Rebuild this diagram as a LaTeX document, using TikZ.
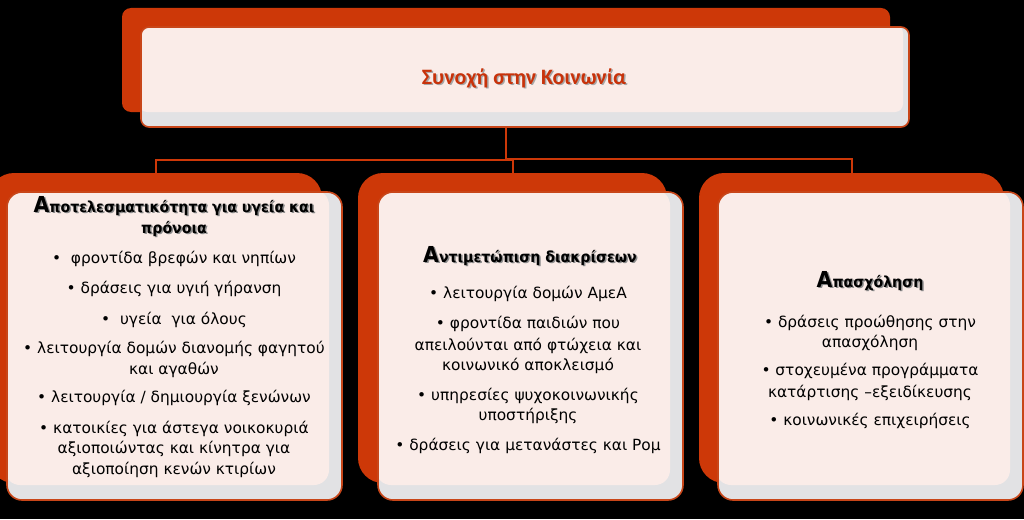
\documentclass[tikz,border=0pt]{standalone}
\usepackage{fontspec}
\setmainfont{DejaVu Sans}
\newfontfamily\titlefont{Carlito}
\newfontfamily\headfont[FakeStretch=0.93]{DejaVu Sans}
\definecolor{redc}{RGB}{205,56,8}
\definecolor{bordc}{RGB}{200,70,25}
\definecolor{pinkc}{RGB}{250,236,232}
\definecolor{grayc}{RGB}{226,226,228}
\definecolor{titlec}{RGB}{200,50,10}
\tikzset{
  backbox/.style={fill=redc, rounded corners=25pt, inner sep=0pt},
  topback/.style={fill=redc, rounded corners=9pt, inner sep=0pt},
  frontbox/.style={fill=grayc, draw=bordc, line width=1.6pt, rounded corners=15pt, inner sep=0pt,
    path picture={\fill[pinkc, rounded corners=15pt] ([xshift=-2pt,yshift=2pt]path picture bounding box.north west) rectangle ([xshift=-13pt,yshift=15pt]path picture bounding box.south east);}},
  topfront/.style={fill=grayc, draw=bordc, line width=1.6pt, rounded corners=8pt, inner sep=0pt,
    path picture={\fill[pinkc, rounded corners=8pt] ([xshift=-2pt,yshift=2pt]path picture bounding box.north west) rectangle ([xshift=-6pt,yshift=15pt]path picture bounding box.south east);}},
  conn/.style={draw=redc, line width=2pt},
  body/.style={font=\fontsize{15.4}{18}\selectfont, text=black, anchor=base, inner sep=0pt},
  head/.style={font=\headfont\bfseries\fontsize{15.2}{18}\selectfont, text=black, anchor=base, inner sep=0pt},
  headsh/.style={head, text=black!45},
  titletxt/.style={font=\titlefont\bfseries\fontsize{22}{26}\selectfont, text=titlec, anchor=base, inner sep=0pt},
  titlesh/.style={titletxt, text=black!35}
}
\newcommand{\BigA}{{\fontsize{22}{22}\selectfont Α}}
\begin{document}
\begin{tikzpicture}[x=1pt,y=-1pt]
\fill[black] (0,0) rectangle (1024,519);
\useasboundingbox (0,0) rectangle (1024,519);
% back boxes
\node[topback, minimum width=768pt, minimum height=104pt] (topb) at (506,60) {};
\node[backbox, minimum width=333pt, minimum height=310pt] (lb) at (155.5,328) {};
\node[backbox, minimum width=309pt, minimum height=310pt] (mb) at (512.5,328) {};
\node[backbox, minimum width=305pt, minimum height=310pt] (rb) at (851.5,328) {};
% connectors
\draw[conn] (topb.south) -- ++(0,46.5) coordinate (jr) -| (rb.north);
\draw[conn] (lb.north) -- ++(0,-12.5) coordinate (jl) -| (mb.north);
% front boxes
\node[topfront, minimum width=768pt, minimum height=100pt] (topf) at (525,77) {};
\node[frontbox, minimum width=335pt, minimum height=308pt] (lf) at (174.5,346) {};
\node[frontbox, minimum width=305pt, minimum height=308pt] (mf) at (530.5,346) {};
\node[frontbox, minimum width=305pt, minimum height=308pt] (rf) at (870.5,346) {};
% title
\node[titlesh] (titles) at (525.5,85.5) {Συνοχή στην Κοινωνία};
\node[titletxt] (title) at (524,84) {Συνοχή στην Κοινωνία};
% left box
\node[headsh] (lh1s) at (175.5,213.5) {\BigA ποτελεσματικότητα για υγεία και};
\node[head] (lh1) at (174,212) {\BigA ποτελεσματικότητα για υγεία και};
\node[headsh] (lh2s) at (175.5,234.5) {πρόνοια};
\node[head] (lh2) at (174,233) {πρόνοια};
\foreach \n/\y/\t in {a/263/{•\ \ φροντίδα βρεφών και νηπίων},
  b/293/{• δράσεις για υγιή γήρανση},
  c/324/{•\ \ υγεία\ \ για όλους},
  d/353/{• λειτουργία δομών διανομής φαγητού},
  e/374/{και αγαθών},
  f/402/{• λειτουργία / δημιουργία ξενώνων},
  g/433/{• κατοικίες για άστεγα νοικοκυριά},
  h/453/{αξιοποιώντας και κίνητρα για},
  i/474/{αξιοποίηση κενών κτιρίων}}
  \node[body] (l\n) at (174,\y) {\t};
% middle box
\node[headsh] (mhs) at (531.5,263.5) {\BigA ντιμετώπιση διακρίσεων};
\node[head] (mh) at (530,262) {\BigA ντιμετώπιση διακρίσεων};
\foreach \n/\y/\t in {a/298/{• λειτουργία δομών ΑμεΑ},
  b/328/{• φροντίδα παιδιών που},
  c/350/{απειλούνται από φτώχεια και},
  d/370/{κοινωνικό αποκλεισμό},
  e/400/{• υπηρεσίες ψυχοκοινωνικής},
  f/420/{υποστήριξης},
  g/450/{• δράσεις για μετανάστες και Ρομ}}
  \node[body] (m\n) at (528,\y) {\t};
% right box
\node[headsh] (rhs) at (871.5,288.5) {\BigA πασχόληση};
\node[head] (rh) at (870,287) {\BigA πασχόληση};
\foreach \n/\y/\t in {a/327/{• δράσεις προώθησης στην},
  b/347/{απασχόληση},
  c/375/{• στοχευμένα προγράμματα},
  d/397/{κατάρτισης –εξειδίκευσης},
  e/425/{• κοινωνικές επιχειρήσεις}}
  \node[body] (r\n) at (870,\y) {\t};
\end{tikzpicture}
\end{document}
